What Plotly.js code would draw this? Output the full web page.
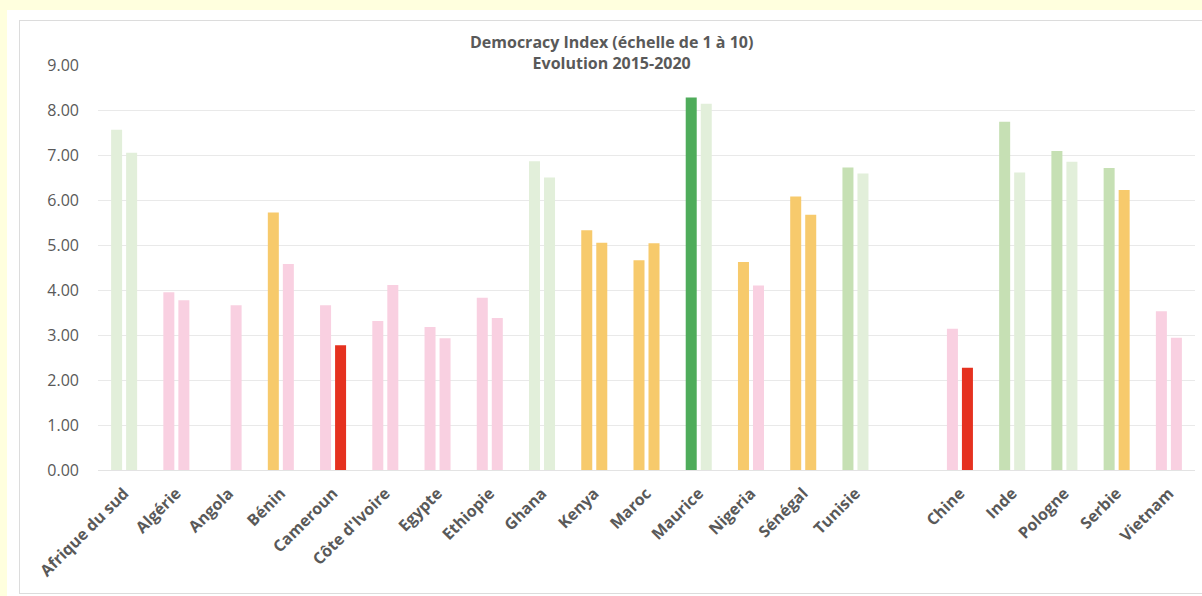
<!DOCTYPE html>
<html>
<head>
<meta charset="utf-8">
<script src="https://cdn.plot.ly/plotly-3.0.1.min.js"></script>
<style>
  html, body { margin: 0; padding: 0; background: #FFFFDE; width: 1202px; height: 596px; overflow: hidden; }
  #card { position: absolute; left: 7px; top: 10px; width: 1195px; height: 586px; background: #ffffff; }
  #chart { position: absolute; left: 0; top: 0; width: 1195px; height: 586px; }
  #frame { position: absolute; left: 12px; top: 10px; width: 1200px; height: 572px; border: 1px solid #DCDCDC; pointer-events: none; }
</style>
</head>
<body>
<div id="card">
  <div id="chart"></div>
  <div id="frame"></div>
</div>
<script>
// Countries (a blank slot separates Africa from the other countries)
const categories = ["Afrique du sud", "Algérie", "Angola", "Bénin", "Cameroun", "Côte d'Ivoire",
  "Egypte", "Ethiopie", "Ghana", "Kenya", "Maroc", "Maurice", "Nigeria", "Sénégal", "Tunisie",
  " ", "Chine", "Inde", "Pologne", "Serbie", "Vietnam"];

// Democracy Index values
const values2015 = [7.56, 3.95, null, 5.72, 3.66, 3.31, 3.18, 3.83, 6.86, 5.33, 4.66, 8.28, 4.62, 6.08, 6.72,
  null, 3.14, 7.74, 7.09, 6.71, 3.53];
const values2020 = [7.05, 3.77, 3.66, 4.58, 2.77, 4.11, 2.93, 3.38, 6.50, 5.05, 5.04, 8.14, 4.10, 5.67, 6.59,
  null, 2.27, 6.61, 6.85, 6.22, 2.94];

// Colour class of each bar
const class2015 = ["light", "pink", "pink", "orange", "pink", "pink", "pink", "pink", "light", "orange", "orange",
  "dark", "orange", "orange", "mid", "pink", "pink", "mid", "mid", "mid", "pink"];
const class2020 = ["light", "pink", "pink", "pink", "red", "pink", "pink", "pink", "light", "orange", "orange",
  "light", "pink", "orange", "light", "pink", "red", "light", "light", "orange", "pink"];

const palette = {
  dark: "#4FAC5B",
  mid: "#C6E0B4",
  light: "#E2EFDA",
  orange: "#F7CA6C",
  pink: "#F9D0E1",
  red: "#E5311F"
};

const traces = [
  { name: "2015", x: categories, y: values2015, type: "bar",
    marker: { color: class2015.map(c => palette[c]) }, hoverinfo: "skip" },
  { name: "2020", x: categories, y: values2020, type: "bar",
    marker: { color: class2020.map(c => palette[c]) }, hoverinfo: "skip" }
];

const layout = {
  width: 1195, height: 586,
  margin: { l: 91, r: 7, t: 55, b: 126 },
  paper_bgcolor: "rgba(0,0,0,0)",
  plot_bgcolor: "rgba(0,0,0,0)",
  showlegend: false,
  barmode: "group",
  bargap: 0.425,
  bargroupgap: 0.267,
  font: { family: "Open Sans, sans-serif", color: "#595959" },
  title: {
    text: "<b>Democracy Index (échelle de 1 à 10)</b><br><b>Evolution 2015-2020</b>",
    font: { family: "Open Sans, sans-serif", size: 16, color: "#595959" },
    x: 0.506, xref: "container", xanchor: "center",
    y: 1 - 38 / 586, yref: "container", yanchor: "middle"
  },
  xaxis: {
    type: "category",
    categoryorder: "array",
    categoryarray: categories,
    tickangle: -45,
    tickfont: { family: "Open Sans, sans-serif", size: 16, color: "#595959", weight: "bold" },
    ticklabelstandoff: 10,
    showgrid: false,
    showline: false,
    ticks: "",
    zeroline: false,
    fixedrange: true
  },
  yaxis: {
    range: [0, 9],
    dtick: 1,
    tickformat: ".2f",
    tickfont: { family: "Open Sans, sans-serif", size: 16, color: "#595959" },
    gridcolor: "#E9E9E9",
    gridwidth: 1,
    zeroline: true,
    zerolinecolor: "#E3E3E3",
    zerolinewidth: 1,
    showline: false,
    ticks: "",
    ticklabelstandoff: 18,
    fixedrange: true
  }
};

Plotly.newPlot("chart", traces, layout, { displayModeBar: false, staticPlot: true });
</script>
</body>
</html>
